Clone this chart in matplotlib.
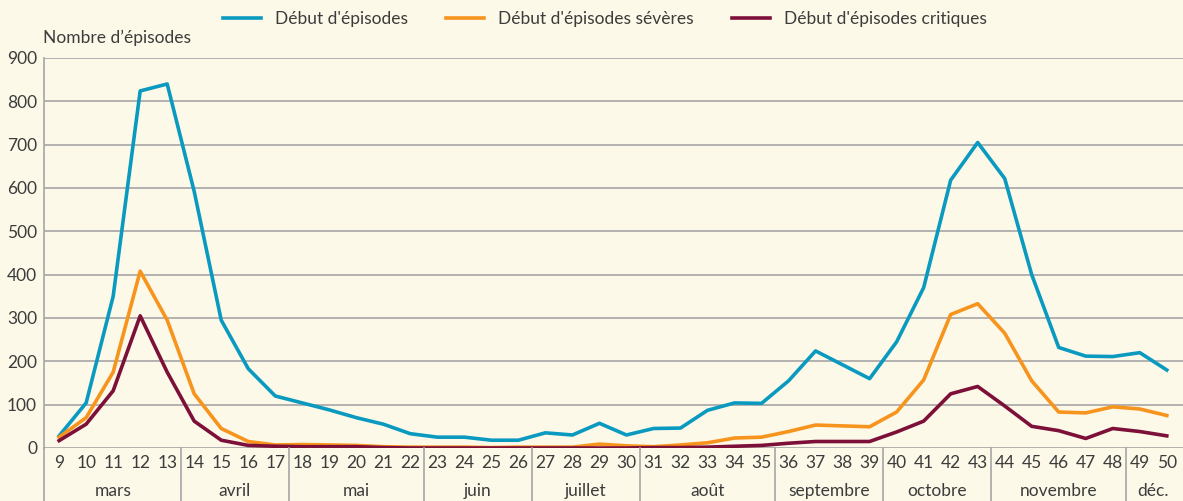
import numpy as np
import matplotlib.pyplot as plt
from matplotlib.transforms import blended_transform_factory

plt.rcParams['font.family'] = ['Lato', 'DejaVu Sans']

weeks = list(range(9, 51))

debut = [28, 104, 350, 824, 840, 592, 295, 183, 120, 104, 88, 70, 55, 33,
         25, 25, 18, 18, 35, 30, 57, 30, 45, 46, 87, 104, 103, 155, 224, 192,
         160, 245, 370, 618, 705, 622, 400, 232, 212, 211, 220, 180]
severes = [25, 70, 175, 408, 295, 125, 45, 15, 7, 8, 7, 6, 3, 2,
           2, 2, 1, 2, 2, 2, 9, 5, 3, 7, 12, 23, 25, 38, 53, 51,
           49, 83, 157, 308, 333, 265, 155, 83, 81, 95, 90, 75]
critiques = [17, 55, 132, 305, 175, 62, 18, 6, 4, 3, 3, 3, 1, 0,
             0, 0, 0, 0, 0, 0, 0, 0, 1, 1, 2, 4, 6, 11, 15, 15,
             15, 37, 62, 125, 142, 97, 50, 40, 22, 45, 38, 28]

months = ['mars', 'avril', 'mai', 'juin', 'juillet', 'août',
          'septembre', 'octobre', 'novembre', 'déc.']
month_start = [9, 14, 18, 23, 27, 31, 36, 40, 44, 49]
month_end = [13, 17, 22, 26, 30, 35, 39, 43, 48, 50]

bg = '#fdf9e9'
grid_c = '#a6a6a6'
text_c = '#3c3c3c'

fig = plt.figure(figsize=(11.83, 5.01), dpi=100, facecolor=bg)
ax = fig.add_axes([44 / 1183, 1 - 448 / 501, 1 - 44 / 1183, (448 - 58) / 501])
ax.set_facecolor(bg)

ax.plot(weeks, debut, color='#0a9ac0', lw=2.6, label="Début d'épisodes")
ax.plot(weeks, severes, color='#f7941d', lw=2.6, label="Début d'épisodes sévères")
ax.plot(weeks, critiques, color='#7c1039', lw=2.6, label="Début d'épisodes critiques")

ax.set_xlim(8.44, 50.6)
ax.set_ylim(0, 900)
ax.set_yticks(range(0, 901, 100))
ax.yaxis.grid(True, color=grid_c, lw=1.2)
ax.set_axisbelow(True)
for s in ['top', 'right', 'bottom']:
    ax.spines[s].set_visible(False)
ax.spines['left'].set_color(grid_c)
ax.spines['left'].set_linewidth(1.2)
ax.tick_params(axis='y', length=0, labelsize=12.5, colors=text_c, pad=5)
ax.set_xticks(weeks)
ax.set_xticklabels([str(w) for w in weeks])
ax.tick_params(axis='x', length=0, labelsize=12.5, colors=text_c, pad=5)

# month groups below the axis
trans = blended_transform_factory(ax.transData, ax.transAxes)
bottom = -53 / 390
for start, end, name in zip(month_start, month_end, months):
    ax.text((start + end) / 2, -0.11, name, transform=trans, ha='center',
            va='center', fontsize=12.5, color=text_c)
for end in month_end[:-1]:
    ax.plot([end + 0.5, end + 0.5], [0, bottom], transform=trans,
            color=grid_c, lw=1.2, clip_on=False)
ax.plot([0, 0], [0, bottom], transform=ax.transAxes, color=grid_c,
        lw=1.2, clip_on=False)

fig.text(43 / 1183, 1 - 38 / 501, 'Nombre d’épisodes', ha='left', va='center',
         fontsize=12.5, color=text_c)

fig.legend(loc='center', bbox_to_anchor=(605 / 1183, 1 - 19 / 501), ncol=3,
           frameon=False, fontsize=12.5, handlelength=2.2, columnspacing=2.2,
           labelcolor=text_c)

fig.savefig('out.png', dpi=100, facecolor=bg)
